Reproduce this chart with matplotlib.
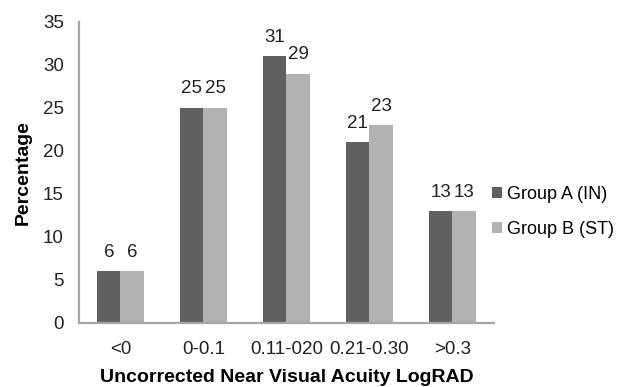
import numpy as np
import matplotlib
matplotlib.use("Agg")
import matplotlib.pyplot as plt

categories = ["<0", "0-0.1", "0.11-020", "0.21-0.30", ">0.3"]
group_a = [6, 25, 31, 21, 13]
group_b = [6, 25, 29, 23, 13]
labels = ["Group A (IN)", "Group B (ST)"]
yticks = [0, 5, 10, 15, 20, 25, 30, 35]

plt.rcParams["font.family"] = ["Liberation Sans", "DejaVu Sans"]

fig = plt.figure(figsize=(6.32, 3.87), dpi=100)
ax = fig.add_axes([0.125, 0.1654, 0.6566, 0.7778])

x = np.arange(len(categories))
w = 0.283
bars_a = ax.bar(x - w / 2, group_a, w, color="#606060", label=labels[0])
bars_b = ax.bar(x + w / 2, group_b, w, color="#b2b2b2", label=labels[1])

for bars in (bars_a, bars_b):
    for b in bars:
        ax.annotate(f"{b.get_height():g}", (b.get_x() + b.get_width() / 2, b.get_height()),
                    xytext=(0, 10.5), textcoords="offset points",
                    ha="center", va="baseline", fontsize=13.5, color="#222222")

ax.set_xlim(-0.5, 4.5)
ax.set_ylim(0, 35)
ax.set_yticks(yticks)
ax.set_xticks(x)
ax.set_xticklabels(categories)
ax.tick_params(axis="both", length=0, labelsize=13.5, colors="#222222")
ax.tick_params(axis="y", pad=11)
ax.tick_params(axis="x", pad=13)

for side in ("top", "right"):
    ax.spines[side].set_visible(False)
for side in ("left", "bottom"):
    ax.spines[side].set_color("#a6a6a6")
    ax.spines[side].set_linewidth(1.6)

ax.set_xlabel("Uncorrected Near Visual Acuity LogRAD", fontsize=14, fontweight="bold", labelpad=8)
ax.set_ylabel("Percentage", fontsize=14, fontweight="bold", labelpad=8)

ax.legend(loc="center left", bbox_to_anchor=(0.995, 0.37), frameon=False, fontsize=13,
          borderaxespad=0, borderpad=0,
          handlelength=0.55, handleheight=0.55, handletextpad=0.3, labelspacing=1.0)

fig.savefig("out.png", dpi=100)
